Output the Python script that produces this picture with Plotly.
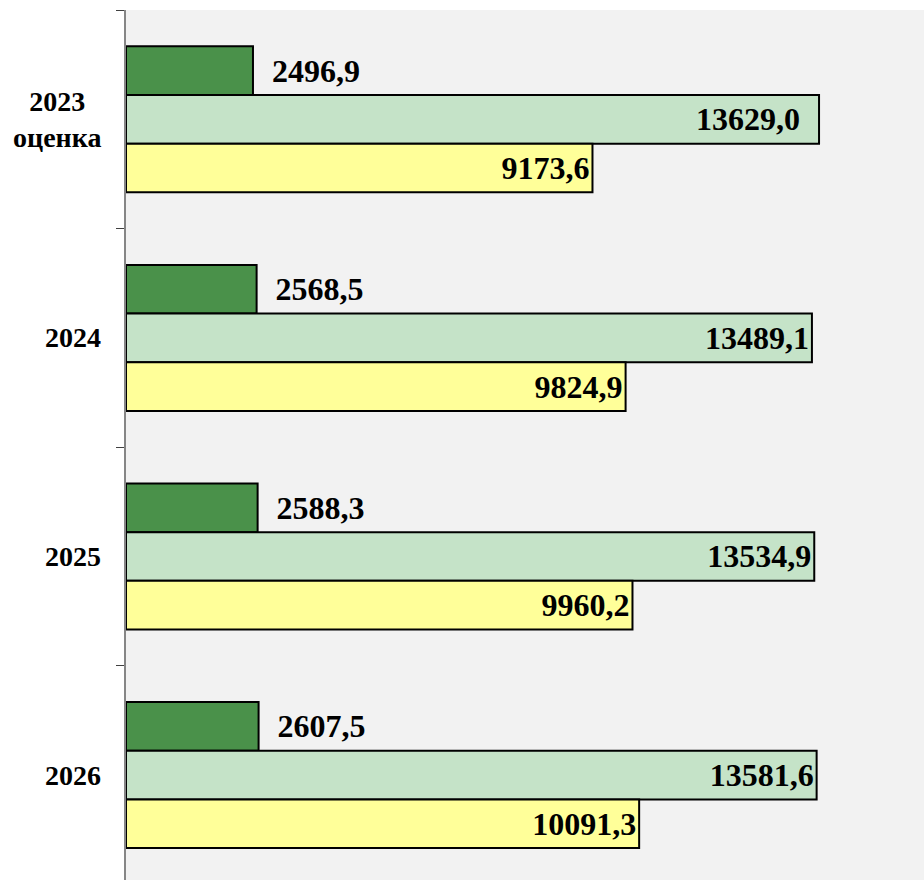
import plotly.graph_objects as go

categories = ["2023<br>оценка", "2024", "2025", "2026"]
series_dark = [2496.9, 2568.5, 2588.3, 2607.5]
series_light = [13629.0, 13489.1, 13534.9, 13581.6]
series_yellow = [9173.6, 9824.9, 9960.2, 10091.3]

NB = "\u00a0"


def fmt(v):
    return f"{v:.1f}".replace(".", ",")


text_dark = [NB * 2 + fmt(v) for v in series_dark]
text_light = [fmt(v) for v in series_light]
text_light[0] = text_light[0] + NB * 2  # original label carries a trailing space
text_yellow = [fmt(v) for v in series_yellow]

FONT = "Liberation Serif, Times New Roman, serif"

fig = go.Figure()
common = dict(orientation="h", constraintext="none", cliponaxis=False,
              textfont=dict(family=FONT, size=32, color="black", weight="bold"),
              marker_line=dict(color="black", width=2), hoverinfo="skip")

fig.add_trace(go.Bar(y=categories, x=series_dark, text=text_dark, textposition="outside",
                     marker_color="#4a914a", **common))
fig.add_trace(go.Bar(y=categories, x=series_light, text=text_light, textposition="inside",
                     insidetextanchor="end", marker_color="#c5e3c8", **common))
fig.add_trace(go.Bar(y=categories, x=series_yellow, text=text_yellow, textposition="inside",
                     insidetextanchor="end", marker_color="#ffff99", **common))

for i, c in enumerate(categories):
    fig.add_annotation(x=0, xref="paper", y=i, yref="y", xanchor="right", yanchor="middle",
                       xshift=-23, align="center", showarrow=False, text=c,
                       font=dict(family=FONT, size=28, color="black", weight="bold"))

fig.update_layout(
    width=924, height=880,
    margin=dict(l=126, r=0, t=10, b=0),
    paper_bgcolor="white", plot_bgcolor="#f2f2f2",
    barmode="group", bargap=0.332, bargroupgap=0,
    showlegend=False,
    font=dict(family=FONT, size=28, color="black"),
    xaxis=dict(range=[0, 15693], showgrid=False, zeroline=False, showticklabels=False,
               showline=False, ticks=""),
    yaxis=dict(type="category", categoryorder="array", categoryarray=categories,
               range=[3.48, -0.5], tickson="boundaries", showticklabels=False,
               ticks="outside", ticklen=8, tickcolor="#404040", tickwidth=1,
               showline=True, linecolor="#868686", linewidth=1.5,
               showgrid=False, zeroline=False),
)

fig.write_html("out.html", config={"displayModeBar": False},
               post_script="document.body.style.margin='0';document.body.style.overflow='hidden';")
